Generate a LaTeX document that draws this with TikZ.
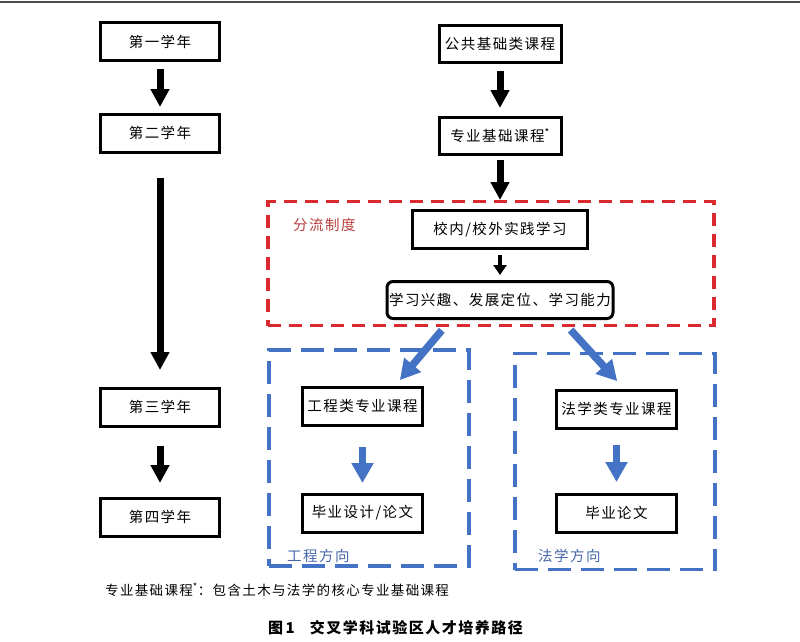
\documentclass[tikz,border=0pt]{standalone}
\usepackage{fontspec}
\setmainfont{Noto Sans CJK SC}
\newfontfamily\cjk[LetterSpace=10]{Noto Sans CJK SC}
\usetikzlibrary{arrows.meta}

\definecolor{flowred}{HTML}{DA2A30}
\definecolor{flowtxt}{HTML}{B5403E}
\definecolor{dirblue}{HTML}{4472C4}
\definecolor{dirtxt}{HTML}{4767A8}

\begin{document}
\begin{tikzpicture}[x=1pt, y=-1pt,
    txt/.style={font=\cjk\fontsize{14.5}{17}\selectfont},
    frame/.style={line width=3.5pt, inner sep=0pt}]

  \useasboundingbox (0,0) rectangle (800,642);
  \draw[black!70, line width=1.5pt] (0,2) -- (800,2);

  \begin{scope}[every node/.style={frame}]
    \node[draw=flowred, dash pattern=on 13pt off 8pt, minimum width=446pt, minimum height=124pt] (flow) at (491,263.5) {};
    \node[draw=dirblue, dash pattern=on 23pt off 10pt, minimum width=200pt, minimum height=216pt] (engdir) at (369,458) {};
    \node[draw=dirblue, dash pattern=on 23pt off 10pt, minimum width=200pt, minimum height=216pt] (lawdir) at (615,461.5) {};
  \end{scope}

  \begin{scope}[every node/.style={draw, line width=3pt, inner sep=0pt, txt, minimum width=119pt, minimum height=38pt}]
    \node (y1) at (160,42)  {第一学年};
    \node (y2) at (160,133) {第二学年};
    \node (y3) at (160,407) {第三学年};
    \node (y4) at (160,517) {第四学年};
    \node[minimum width=122pt, minimum height=37pt] (pub)  at (500,44)    {公共基础类课程};
    \node[minimum width=122pt, minimum height=37pt] (prof) at (500,135.5) {专业基础课程\textsuperscript{*}};
    \node[minimum width=175pt] (prac) at (500,229.5) {校内/校外实践学习};
    \node[minimum width=226pt, minimum height=37pt, rounded corners=6pt] (abil) at (500,300) {学习兴趣、发展定位、学习能力};
    \node[minimum width=120pt] (eng)     at (362.5,406) {工程类专业课程};
    \node[minimum width=120pt] (engthes) at (362.5,513) {毕业设计/论文};
    \node[minimum width=120pt] (law)     at (616.5,409) {法学类专业课程};
    \node[minimum width=120pt] (lawthes) at (616.5,513) {毕业论文};
  \end{scope}

  \begin{scope}[every node/.style={txt, inner sep=0pt, anchor=west}]
    \node[text=flowtxt] (flowlbl) at (293,225) {分流制度};
    \node[text=dirtxt]  (englbl)  at (287,556) {工程方向};
    \node[text=dirtxt]  (lawlbl)  at (538,556) {法学方向};
    \node[font=\cjk\fontsize{13.5}{16}\selectfont] (note) at (105,590) {专业基础课程\textsuperscript{*}：包含土木与法学的核心专业基础课程};
    \node[font=\cjk\bfseries\fontsize{15}{18}\selectfont] (cap) at (268,628) {图\,1\quad 交叉学科试验区人才培养路径};
  \end{scope}

  \begin{scope}[every edge/.style={draw, line width=7pt, -{Triangle[width=18pt,length=18pt]}}]
    \path (y1)   edge[shorten <=6.5pt, shorten >=5.5pt]  (y2);
    \path (y2)   edge[shorten <=24.5pt, shorten >=16.5pt] (y3);
    \path (y3)   edge[shorten <=18.5pt, shorten >=13.5pt] (y4);
    \path (pub)  edge[shorten <=7pt, shorten >=7.5pt]    (prof);
    \path (prof) edge[shorten <=4.5pt, shorten >=9pt]    (prac);
    \path (prac) edge[line width=4.5pt, -{Triangle[width=13pt,length=10pt]}, shorten <=5pt, shorten >=5pt] (abil);
  \end{scope}

  \begin{scope}[every edge/.style={draw, dirblue, line width=7.5pt, -{Triangle[width=21pt,length=20pt]}}]
    \path (abil.202.6) edge[shorten <=13.5pt, shorten >=7pt]  (eng.32);
    \path (abil.342.4) edge[shorten <=13.5pt, shorten >=10pt] (law.70);
    \path (eng) edge[shorten <=20.5pt, shorten >=9.5pt]  (engthes);
    \path (law) edge[shorten <=15.5pt, shorten >=10.5pt] (lawthes);
  \end{scope}

\end{tikzpicture}
\end{document}
